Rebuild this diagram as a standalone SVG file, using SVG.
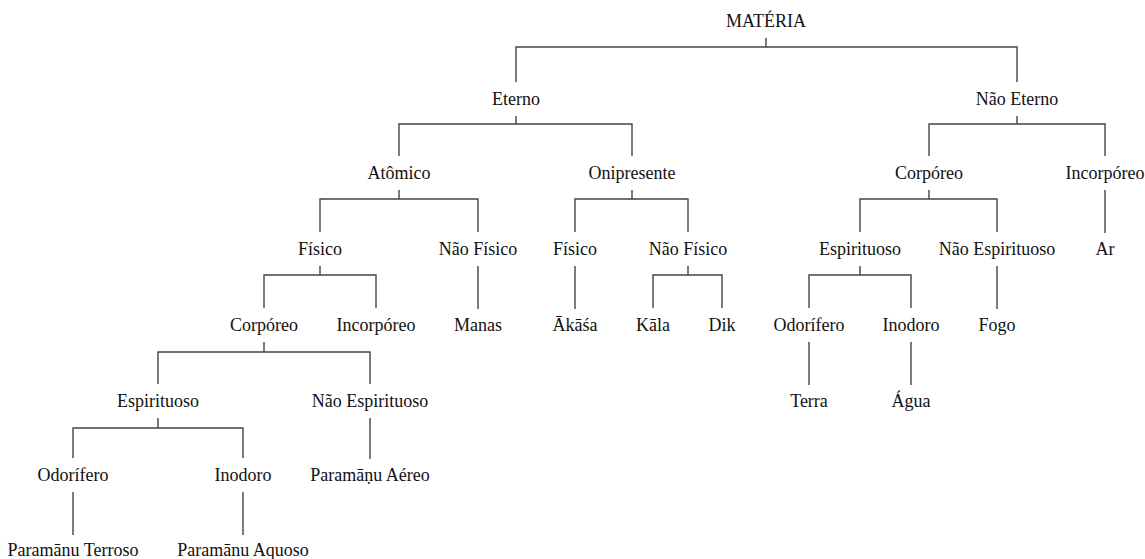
<svg xmlns="http://www.w3.org/2000/svg" width="1145" height="559" viewBox="0 0 1145 559">
<style>
text{font-family:"Liberation Serif","Times New Roman",serif;font-size:18px;fill:#111;text-anchor:middle}
.c{fill:none;stroke:#444;stroke-width:1.4}
</style>
<rect width="1145" height="559" fill="#fff"/>
<g id="connectors" class="c">
<!-- MATERIA -->
<path d="M766 38V47M516 82V47H1017V82"/>
<!-- Eterno -->
<path d="M516 116V124M399 156V124H632V156"/>
<!-- Nao Eterno -->
<path d="M1017 116V124M929 156V124H1105V156"/>
<!-- Atomico -->
<path d="M399 190V199M320 232V199H478V232"/>
<!-- Onipresente -->
<path d="M632 190V199M575 232V199H688V232"/>
<!-- Corporeo right -->
<path d="M929 190V199M860 232V199H997V232"/>
<!-- Incorporeo right -> Ar -->
<path d="M1105 190V233"/>
<!-- Fisico -->
<path d="M320 266V275M264 308V275H376V308"/>
<!-- Nao Fisico -> Manas -->
<path d="M478 266V309"/>
<!-- Fisico -> Akasa -->
<path d="M575 266V309"/>
<!-- Nao Fisico -> Kala, Dik -->
<path d="M688 266V275M653 308V275H722V308"/>
<!-- Espirituoso right -->
<path d="M860 266V275M809 308V275H911V308"/>
<!-- Nao Espirituoso right -> Fogo -->
<path d="M997 266V309"/>
<!-- Corporeo left -->
<path d="M264 342V352M158 384V352H370V384"/>
<!-- Odorifero -> Terra, Inodoro -> Agua -->
<path d="M809 342V385M911 342V385"/>
<!-- Espirituoso left -->
<path d="M158 418V428M73 458V428H243V458"/>
<!-- Nao Espirituoso -> Paramanu Aereo -->
<path d="M370 418V459"/>
<!-- Odorifero / Inodoro -> Paramanu -->
<path d="M73 492V535M243 492V535"/>
</g>
<g id="n-materia"><text x="766" y="27">MATÉRIA</text></g>
<g id="n-eterno"><text x="516" y="105">Eterno</text></g>
<g id="n-nao-eterno"><text x="1017" y="105">Não Eterno</text></g>
<g id="n-atomico"><text x="399" y="179">Atômico</text></g>
<g id="n-onipresente"><text x="632" y="179">Onipresente</text></g>
<g id="n-corporeo-r"><text x="929" y="179">Corpóreo</text></g>
<g id="n-incorporeo-r"><text x="1105" y="179">Incorpóreo</text></g>
<g id="n-fisico-a"><text x="320" y="255">Físico</text></g>
<g id="n-nao-fisico-a"><text x="478" y="255">Não Físico</text></g>
<g id="n-fisico-o"><text x="575" y="255">Físico</text></g>
<g id="n-nao-fisico-o"><text x="688" y="255">Não Físico</text></g>
<g id="n-espirituoso-r"><text x="860" y="255">Espirituoso</text></g>
<g id="n-nao-espirituoso-r"><text x="997" y="255">Não Espirituoso</text></g>
<g id="n-ar"><text x="1105" y="255">Ar</text></g>
<g id="n-corporeo-l"><text x="264" y="331">Corpóreo</text></g>
<g id="n-incorporeo-l"><text x="376" y="331">Incorpóreo</text></g>
<g id="n-manas"><text x="478" y="331">Manas</text></g>
<g id="n-akasa"><text x="575" y="331">Ākāśa</text></g>
<g id="n-kala"><text x="653" y="331">Kāla</text></g>
<g id="n-dik"><text x="722" y="331">Dik</text></g>
<g id="n-odorifero-r"><text x="809" y="331">Odorífero</text></g>
<g id="n-inodoro-r"><text x="911" y="331">Inodoro</text></g>
<g id="n-fogo"><text x="997" y="331">Fogo</text></g>
<g id="n-espirituoso-l"><text x="158" y="407">Espirituoso</text></g>
<g id="n-nao-espirituoso-l"><text x="370" y="407">Não Espirituoso</text></g>
<g id="n-terra"><text x="809" y="407">Terra</text></g>
<g id="n-agua"><text x="911" y="407">Água</text></g>
<g id="n-odorifero-l"><text x="73" y="481">Odorífero</text></g>
<g id="n-inodoro-l"><text x="243" y="481">Inodoro</text></g>
<g id="n-paramanu-aereo"><text x="370" y="481">Paramāṇu Aéreo</text></g>
<g id="n-paramanu-terroso"><text x="73" y="556">Paramānu Terroso</text></g>
<g id="n-paramanu-aquoso"><text x="243" y="556">Paramānu Aquoso</text></g>
</svg>
